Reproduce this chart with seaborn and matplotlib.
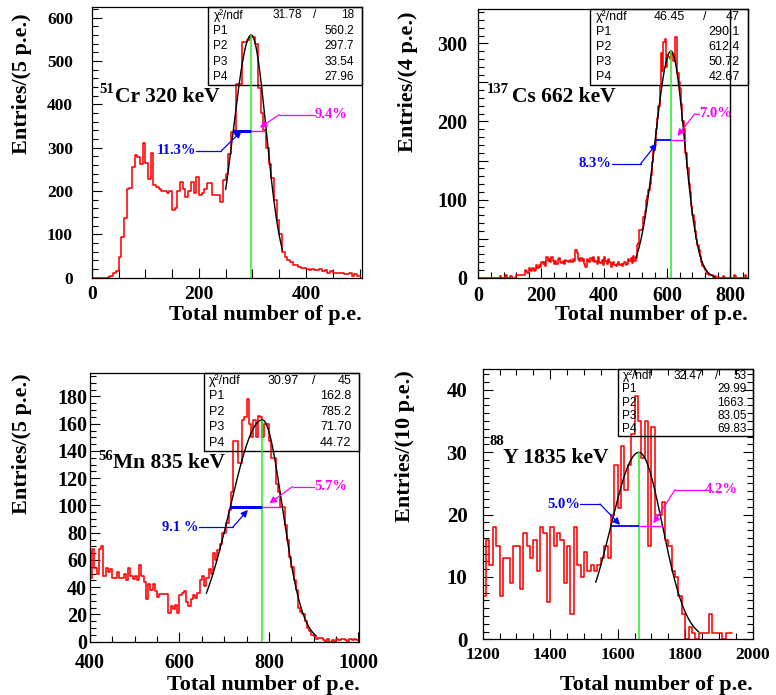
import numpy as np
import pandas as pd
import matplotlib
matplotlib.use("Agg")
import matplotlib.pyplot as plt
import seaborn as sns
from matplotlib.patches import Rectangle
from matplotlib.ticker import MultipleLocator, FixedLocator, FuncFormatter

# ---------------- data ----------------
# 51Cr : bins of 5 p.e. starting at 0
cr_start, cr_width = 0, 5
cr_counts = [0, 0, 0, 0, 0, 0, 1, 4, 12, 15, 48, 95, 137, 204, 206, 256, 283, 279, 262, 310,
             265, 228, 288, 214, 210, 205, 200, 200, 195, 200, 156, 160, 200, 222, 205, 187,
             200, 222, 195, 233, 190, 195, 205, 218, 218, 190, 190, 190, 175, 226, 240, 285,
             337, 340, 447, 447, 545, 545, 548, 556, 556, 540, 437, 380, 340, 300, 262, 230,
             180, 133, 100, 60, 48, 40, 37, 30, 30, 25, 22, 22, 20, 18, 20, 18, 18, 20, 15,
             18, 10, 15, 12, 12, 10, 12, 8, 8, 10, 5, 8, 5]
cr_fit = [560.2, 297.7, 33.54, 27.96]
cr_chi2 = ["31.78", "18"]
cr_range = [250, 356]

# 137Cs : bins of 4 p.e. starting at 0
cs_start, cs_width = 0, 4
cs_counts = ([0] * 17 +
             [2, 0, 0, 0, 2, 3, 0, 0, 2, 2, 0, 0, 0, 3, 3, 3, 3, 3, 3, 4] +
             [10, 8, 6, 12, 10, 8, 12, 8, 10, 16, 12, 16, 14, 20, 18, 20, 15, 26, 22, 24] +
             [20, 27, 22, 17, 22, 18, 24, 25, 20, 19, 22, 18, 23, 22, 20, 21, 23, 20, 24, 22] +
             [35, 32, 24, 22, 25, 21, 24, 18, 14, 24, 22, 20, 25, 22, 26, 20, 21, 18, 27, 20] +
             [19, 23, 16, 27, 22, 18, 24, 20, 14, 18, 20, 16, 15, 18, 20, 16, 18, 15, 17, 20] +
             [16, 18, 24, 22, 25, 19, 28, 22, 25, 42, 45, 61, 61, 62, 78, 85, 99, 105, 112, 120] +
             [132, 148, 163, 172, 190, 205, 220, 245, 288, 265, 302, 305, 270, 285, 282, 280, 288, 285, 278, 308] +
             [308, 262, 250, 242, 222, 200, 190, 160, 160, 140, 120, 110, 92, 80, 72, 60, 50, 42, 35, 28] +
             [20, 15, 12, 10, 8, 5, 4, 3, 3, 1, 0, 2, 0, 1, 0, 0, 0, 2, 1, 0] +
             [0, 0, 0, 0, 0, 0, 3, 2, 0, 0, 0, 0, 0, 0, 0, 3, 0])
cs_fit = [290.1, 612.4, 50.72, 42.67]
cs_chi2 = ["46.45", "47"]
cs_range = [500, 750]

# 56Mn : bins of 5 p.e. starting at 400
mn_start, mn_width = 400, 5
mn_counts = ([47, 68, 54, 50, 68, 70, 48, 54, 51, 53, 47, 47, 51, 47, 47, 50, 45, 54, 48, 46] +
             [48, 45, 56, 48, 44, 31, 42, 38, 42, 37, 33, 35, 35, 35, 35, 21, 26, 24, 27, 21] +
             [34, 36, 37, 29, 26, 31, 34, 32, 36, 45, 48, 41, 47, 53, 50, 65, 60, 67, 72, 80] +
             [80, 87, 97, 110, 147, 147, 131, 131, 163, 165, 178, 160, 150, 163, 150, 166, 165, 150, 160, 160] +
             [147, 135, 135, 116, 110, 99, 99, 86, 75, 62, 55, 45, 38, 25, 22, 20, 15, 10, 8, 5] +
             [4, 2, 3, 3, 1, 0, 2, 0, 1, 0, 2, 1, 2, 2, 1, 0, 2, 1, 2, 1])
mn_fit = [162.8, 785.2, 71.70, 44.72]
mn_chi2 = ["30.97", "45"]
mn_range = [660, 905]

# 88Y : bins of 10 p.e. starting at 1200
y_start, y_width = 1200, 10
y_counts = ([7, 16, 12, 18, 15, 7, 13, 13, 9, 15, 15, 8, 17, 15, 13, 16, 11, 18, 17, 6] +
            [18, 15, 17, 16, 9, 15, 4, 18, 12, 10, 14, 11, 12, 11, 12, 13, 15, 13, 20, 28] +
            [21, 31, 24, 28, 33, 39, 35, 29, 35, 15, 34, 20, 20, 22, 16, 15, 11, 10, 7, 4] +
            [0, 2, 1, 0, 1, 1, 1, 4, 1, 1, 1, 0, 1, 1])
y_fit = [29.99, 1663.0, 83.05, 69.83]
y_chi2 = ["32.47", "53"]
y_range = [1535, 1840]

fit_values_text = [["560.2", "297.7", "33.54", "27.96"],
                   ["290.1", "612.4", "50.72", "42.67"],
                   ["162.8", "785.2", "71.70", "44.72"],
                   ["29.99", "1663.", "83.05", "69.83"]]
iso_labels = ["51", "137", "56", "88"]
line_labels = ["Cr 320 keV", "Cs 662 keV", "Mn 835 keV", "Y 1835 keV"]
ylabels = ["Entries/(5 p.e.)", "Entries/(4 p.e.)", "Entries/(5 p.e.)", "Entries/(10 p.e.)"]
xlabel_text = "Total number of p.e."
res_left = ["11.3%", "8.3%", "9.1 %", "5.0%"]
res_right = ["9.4%", "7.0%", "5.7%", "4.2%"]

# ---------------- style ----------------
sns.set_theme(style="ticks")
plt.rcParams["font.family"] = ["Liberation Serif", "DejaVu Serif"]
plt.rcParams["font.weight"] = "bold"
plt.rcParams["axes.linewidth"] = 0.9
plt.rcParams["axes.edgecolor"] = "black"
plt.rcParams["xtick.color"] = "black"
plt.rcParams["ytick.color"] = "black"
plt.rcParams["text.color"] = "black"

RED, BLUE, MAG, GREEN = "#ff0000", "#0000ff", "#ff00ff", "#22ee22"

panels = [
    dict(counts=cr_counts, start=cr_start, width=cr_width, fit=cr_fit, chi2=cr_chi2, rng=cr_range,
         rect=[0.1182, 0.6004, 0.348, 0.389], xlim=(0, 504), ylim=(0, 624),
         xmaj=FixedLocator([0, 200, 400]), xmin=50, ymaj=100, ymin=20, ylabstep=100,
         xts=14, yts=12.5, xpad=6, ypad=13.5, xminlen=6.5,
         box=(0.431, 0.713), cols=(0.61, 0.696, 0.95), boxfs=8.5,
         xl_y=-0.138, yl_x=-0.259, yl_top=0.979,
         iso=(0.027, 0.682), main=(0.086, 0.651),
         blue=((195, 293), (242, 293), (279.5, 338.7)),
         mag=((416, 376), (349.7, 376), (313.7, 346.4)), blw=2.2, extra_v=None, topright=False),
    dict(counts=cs_counts, start=cs_start, width=cs_width, fit=cs_fit, chi2=cs_chi2, rng=cs_range,
         rect=[0.6164, 0.6004, 0.3472, 0.3862], xlim=(0, 856), ylim=(0, 343.6),
         xmaj=MultipleLocator(200), xmin=40, ymaj=50, ymin=10, ylabstep=100,
         xts=14.5, yts=14.5, xpad=6, ypad=8, xminlen=4,
         box=(0.415, 0.718), cols=(0.60, 0.73, 0.95), boxfs=9,
         xl_y=-0.139, yl_x=-0.26, yl_top=0.991,
         iso=(0.031, 0.687), main=(0.124, 0.656),
         blue=((424, 146), (516, 146), (566.8, 172)),
         mag=((700, 210), (688, 210), (632.6, 181.4)), blw=1.3, extra_v=800, topright=False),
    dict(counts=mn_counts, start=mn_start, width=mn_width, fit=mn_fit, chi2=mn_chi2, rng=mn_range,
         rect=[0.116, 0.0767, 0.347, 0.3862], xlim=(400, 1002), ylim=(0, 197),
         xmaj=MultipleLocator(200), xmin=50, ymaj=20, ymin=5, ylabstep=20,
         xts=14.5, yts=14.5, xpad=8, ypad=2, xminlen=4,
         box=(0.423, 0.712), cols=(0.61, 0.71, 0.95), boxfs=9,
         xl_y=-0.161, yl_x=-0.254, yl_top=1.0,
         iso=(0.031, 0.677), main=(0.087, 0.646),
         blue=((643, 84), (719.3, 84), (752.8, 96.7)),
         mag=((901, 113.9), (853, 113.9), (801, 101.6)), blw=2.2, extra_v=None, topright=False),
    dict(counts=y_counts, start=y_start, width=y_width, fit=y_fit, chi2=y_chi2, rng=y_range,
         rect=[0.622, 0.0801, 0.348, 0.3885], xlim=(1200, 2000), ylim=(0, 43.3),
         xmaj=MultipleLocator(200), xmin=50, ymaj=10, ymin=1.25, ylabstep=10,
         xts=12.6, yts=15, xpad=5.5, ypad=11, xminlen=4,
         box=(0.5, 0.753), cols=(0.63, 0.73, 0.955), boxfs=8.5,
         xl_y=-0.169, yl_x=-0.288, yl_top=0.997,
         iso=(0.027, 0.72), main=(0.076, 0.652),
         blue=((1488, 21.7), (1547.7, 21.7), (1606.9, 18.35)),
         mag=((1858.8, 24), (1769.9, 24), (1705.7, 18.6)), blw=1.3, extra_v=None, topright=True),
]


def asym_gauss(x, a, mu, sl, sr):
    return np.where(x < mu, a * np.exp(-0.5 * ((x - mu) / sl) ** 2),
                    a * np.exp(-0.5 * ((x - mu) / sr) ** 2))


fig = plt.figure(figsize=(7.76, 6.95), dpi=100)

for i, p in enumerate(panels):
    ax = fig.add_axes(p["rect"])
    counts = np.asarray(p["counts"], dtype=float)
    edges = p["start"] + p["width"] * np.arange(len(counts) + 1)
    centers = edges[:-1] + p["width"] / 2.0
    hist_df = pd.DataFrame({"pe": centers, "n": counts})
    sns.histplot(data=hist_df, x="pe", weights="n", bins=[float(e) for e in edges],
                 element="step", fill=False, color=RED, linewidth=1.15, ax=ax)

    a, mu, sl, sr = p["fit"]
    xs = np.linspace(p["rng"][0], p["rng"][1], 400)
    fit_df = pd.DataFrame({"pe": xs, "f": asym_gauss(xs, a, mu, sl, sr)})
    sns.lineplot(data=fit_df, x="pe", y="f", color="black", linewidth=1.0,
                 ax=ax, estimator=None, sort=False)

    ax.vlines(mu, 0, a, colors=GREEN, lw=1.1, zorder=3)
    yh = a * np.exp(-0.5)
    ax.hlines(yh, mu - sl, mu, colors=BLUE, lw=p["blw"], zorder=4)
    ax.hlines(yh, mu, mu + sr, colors=MAG, lw=1.0, zorder=4)

    if p["extra_v"] is not None:
        ax.axvline(p["extra_v"], color="black", lw=1.0, zorder=5)

    # resolution annotations
    (tb, eb, kb) = p["blue"]
    ax.plot([tb[0], eb[0]], [tb[1], eb[1]], color=BLUE, lw=0.9, zorder=5)
    ax.annotate("", xy=kb, xytext=eb,
                arrowprops=dict(arrowstyle="-|>", color=BLUE, lw=0.9, shrinkA=0, shrinkB=0,
                                mutation_scale=10), zorder=5)
    ax.text(tb[0], tb[1], res_left[i], color=BLUE, ha="right", va="center",
            fontsize=10.5, fontweight="bold", zorder=6)
    (tm, em, km) = p["mag"]
    ax.plot([tm[0], em[0]], [tm[1], em[1]], color=MAG, lw=0.9, zorder=5)
    ax.annotate("", xy=km, xytext=em,
                arrowprops=dict(arrowstyle="-|>", color=MAG, lw=0.9, shrinkA=0, shrinkB=0,
                                mutation_scale=10), zorder=5)
    ax.text(tm[0], tm[1], res_right[i], color=MAG, ha="left", va="center",
            fontsize=10.5, fontweight="bold", zorder=6)

    # axes limits / ticks
    ax.set_xlim(*p["xlim"])
    ax.set_ylim(*p["ylim"])
    ax.set_xlabel("")
    ax.set_ylabel("")
    ax.xaxis.set_major_locator(p["xmaj"])
    ax.xaxis.set_minor_locator(MultipleLocator(p["xmin"]))
    ax.yaxis.set_major_locator(MultipleLocator(p["ymaj"]))
    ax.yaxis.set_minor_locator(MultipleLocator(p["ymin"]))
    step = p["ylabstep"]
    ax.yaxis.set_major_formatter(FuncFormatter(
        lambda v, pos, s=step: f"{v:.0f}" if abs(v / s - round(v / s)) < 1e-6 else ""))
    ax.xaxis.set_major_formatter(FuncFormatter(lambda v, pos: f"{v:.0f}"))
    ax.tick_params(axis="both", which="both", direction="in", width=0.8,
                   top=p["topright"], right=p["topright"])
    ax.tick_params(axis="x", which="major", length=7.5, labelsize=p["xts"], pad=p["xpad"])
    ax.tick_params(axis="x", which="minor", length=p["xminlen"])
    ax.tick_params(axis="y", which="major", length=7.5, labelsize=p["yts"], pad=p["ypad"])
    ax.tick_params(axis="y", which="minor", length=4)
    for s in ax.spines.values():
        s.set_visible(True)
        s.set_color("black")
        s.set_linewidth(0.9)

    # axis titles (ROOT style, right / top aligned)
    ax.text(1.0, p["xl_y"], xlabel_text, transform=ax.transAxes, ha="right", va="center",
            fontsize=16, fontweight="bold")
    ax.text(p["yl_x"], p["yl_top"], ylabels[i], transform=ax.transAxes, rotation=90,
            ha="center", va="top", fontsize=16, fontweight="bold")

    # source label
    ax.text(p["iso"][0], p["iso"][1], iso_labels[i], transform=ax.transAxes,
            ha="left", va="baseline", fontsize=10.5, fontweight="bold")
    ax.text(p["main"][0], p["main"][1], line_labels[i], transform=ax.transAxes,
            ha="left", va="baseline", fontsize=15.5, fontweight="bold")

    # statistics box
    x0, y0 = p["box"]
    ax.add_patch(Rectangle((x0, y0), 1 - x0, 1 - y0, transform=ax.transAxes, fill=False,
                           ec="black", lw=1.0, zorder=2, clip_on=False))
    rows = ["\u03c7\u00b2/ndf", "P1", "P2", "P3", "P4"]
    cval, cslash, cright = p["cols"]
    bw, bh = 1 - x0, 1 - y0
    for r, name in enumerate(rows):
        yy = y0 + bh * (1 - (r + 0.5) / 5)
        ax.text(x0 + 0.035 * bw, yy, name, transform=ax.transAxes, ha="left", va="center",
                fontsize=p["boxfs"], fontweight="normal", family="Liberation Sans", zorder=6)
        if r == 0:
            ax.text(x0 + cval * bw, yy, p["chi2"][0], transform=ax.transAxes, ha="right",
                    va="center", fontsize=p["boxfs"], fontweight="normal",
                    family="Liberation Sans", zorder=6)
            ax.text(x0 + cslash * bw, yy, "/", transform=ax.transAxes, ha="center",
                    va="center", fontsize=p["boxfs"], fontweight="normal",
                    family="Liberation Sans", zorder=6)
            ax.text(x0 + cright * bw, yy, p["chi2"][1], transform=ax.transAxes, ha="right",
                    va="center", fontsize=p["boxfs"], fontweight="normal",
                    family="Liberation Sans", zorder=6)
        else:
            ax.text(x0 + cright * bw, yy, fit_values_text[i][r - 1], transform=ax.transAxes,
                    ha="right", va="center", fontsize=p["boxfs"], fontweight="normal",
                    family="Liberation Sans", zorder=6)

fig.savefig("out.png", dpi=100, facecolor="white")
